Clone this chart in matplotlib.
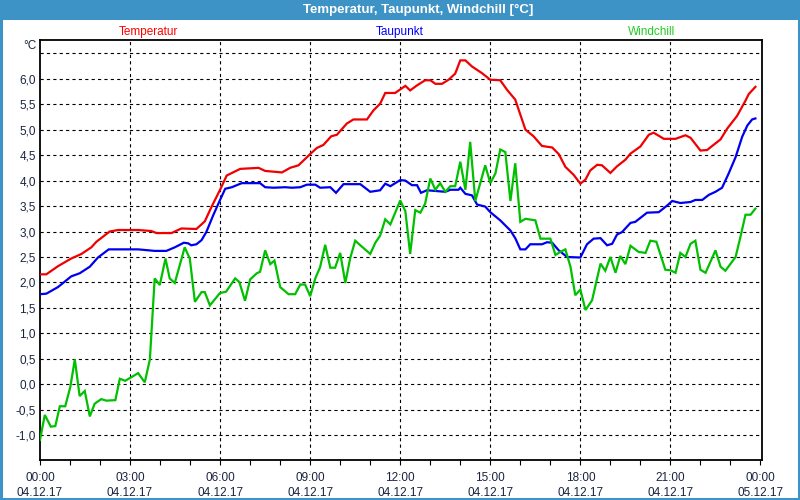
import matplotlib
matplotlib.use("Agg")
import matplotlib.pyplot as plt
from matplotlib.patches import Rectangle

# ---- data (hours since 04.12.17 00:00, values in °C) ----
temp_h = [0, 0.21, 0.6, 1.04, 1.38, 1.71, 1.88, 2.32, 2.6, 3.27,
          3.71, 3.88, 4.38, 4.71, 5.21, 5.49, 5.71, 5.99, 6.22, 6.67,
          7.28, 7.5, 8.06, 8.33, 8.61, 9.0, 9.22, 9.44, 9.7, 9.89,
          10.22, 10.44, 10.89, 11.11, 11.33, 11.5, 11.83, 12.17, 12.33, 12.56,
          12.83, 13.0, 13.17, 13.39, 13.61, 13.83, 14.0, 14.17, 14.39, 14.72,
          15.0, 15.33, 15.56, 15.83, 16.17, 16.44, 16.72, 17.06, 17.28, 17.5,
          17.78, 18.0, 18.17, 18.33, 18.56, 18.72, 19.0, 19.22, 19.5, 19.67,
          20.0, 20.28, 20.44, 20.78, 21.17, 21.5, 21.67, 22.0, 22.22, 22.67,
          22.89, 23.22, 23.5, 23.61, 23.83]
temp_v = [2.16, 2.16, 2.32, 2.47, 2.56, 2.69, 2.80, 3.0, 3.03, 3.03,
          3.01, 2.97, 2.97, 3.06, 3.05, 3.2, 3.48, 3.81, 4.10, 4.23,
          4.25, 4.19, 4.16, 4.25, 4.30, 4.52, 4.64, 4.70, 4.87, 4.90,
          5.12, 5.2, 5.2, 5.38, 5.51, 5.72, 5.72, 5.86, 5.77, 5.87,
          5.97, 5.97, 5.9, 5.9, 5.98, 6.1, 6.36, 6.36, 6.24, 6.11,
          5.98, 5.97, 5.78, 5.59, 5.0, 4.87, 4.68, 4.65, 4.52, 4.27,
          4.11, 3.94, 4.02, 4.2, 4.31, 4.3, 4.15, 4.28, 4.41, 4.53,
          4.67, 4.9, 4.94, 4.82, 4.82, 4.89, 4.84, 4.59, 4.6, 4.81,
          5.02, 5.27, 5.57, 5.70, 5.84]

dew_h = [0, 0.21, 0.6, 1.04, 1.32, 1.66, 1.93, 2.29, 3.27, 3.82,
         4.21, 4.49, 4.79, 4.93, 5.04, 5.21, 5.38, 5.54, 5.77, 5.99,
         6.17, 6.39, 6.72, 7.33, 7.5, 7.78, 8.17, 8.39, 8.67, 8.89,
         9.17, 9.33, 9.67, 9.86, 10.11, 10.67, 11.0, 11.33, 11.5, 11.67,
         12.0, 12.17, 12.39, 12.56, 12.69, 12.89, 13.5, 13.67, 13.94, 14.0,
         14.17, 14.39, 14.56, 14.83, 15.0, 15.33, 15.67, 15.83, 16.0, 16.17,
         16.33, 16.72, 16.89, 17.06, 17.28, 17.56, 18.0, 18.22, 18.44, 18.67,
         18.89, 19.06, 19.22, 19.39, 19.67, 19.83, 20.22, 20.61, 20.89, 21.06,
         21.33, 21.67, 21.83, 22.06, 22.28, 22.5, 22.72, 22.94, 23.17, 23.39,
         23.56, 23.72, 23.83]
dew_v = [1.77, 1.78, 1.91, 2.12, 2.18, 2.31, 2.49, 2.65, 2.65, 2.62,
         2.62, 2.69, 2.78, 2.77, 2.73, 2.75, 2.83, 2.99, 3.32, 3.61,
         3.84, 3.87, 3.95, 3.95, 3.87, 3.86, 3.87, 3.86, 3.87, 3.92,
         3.92, 3.86, 3.87, 3.76, 3.93, 3.93, 3.78, 3.81, 3.94, 3.89,
         4.01, 4.0, 3.91, 3.91, 3.76, 3.81, 3.78, 3.82, 3.82, 3.86,
         3.74, 3.71, 3.53, 3.49, 3.38, 3.22, 3.02, 2.87, 2.65, 2.65,
         2.75, 2.75, 2.79, 2.78, 2.63, 2.5, 2.49, 2.75, 2.86, 2.87,
         2.73, 2.76, 2.94, 2.99, 3.17, 3.19, 3.37, 3.38, 3.51, 3.6,
         3.56, 3.58, 3.62, 3.62, 3.72, 3.78, 3.86, 4.14, 4.46, 4.86,
         5.08, 5.2, 5.22]

wc_h = [0, 0.16, 0.36, 0.51, 0.66, 0.84, 1.01, 1.16, 1.32, 1.49,
        1.66, 1.82, 2.04, 2.21, 2.51, 2.66, 2.84, 3.27, 3.49, 3.66,
        3.82, 3.99, 4.18, 4.32, 4.49, 4.82, 4.99, 5.16, 5.38, 5.49,
        5.66, 5.99, 6.2, 6.5, 6.64, 6.83, 7.0, 7.22, 7.33, 7.5,
        7.67, 7.81, 8.0, 8.28, 8.5, 8.67, 8.83, 9.0, 9.17, 9.33,
        9.5, 9.67, 9.83, 10.0, 10.17, 10.33, 10.5, 10.67, 11.0, 11.17,
        11.33, 11.5, 11.67, 12.0, 12.17, 12.33, 12.5, 12.67, 12.83, 13.0,
        13.17, 13.33, 13.5, 13.67, 13.83, 14.0, 14.17, 14.33, 14.5, 14.83,
        15.0, 15.17, 15.33, 15.5, 15.67, 15.83, 16.0, 16.17, 16.5, 16.67,
        17.0, 17.17, 17.33, 17.5, 17.67, 17.83, 18.0, 18.17, 18.39, 18.67,
        18.83, 19.0, 19.17, 19.33, 19.5, 19.67, 19.94, 20.17, 20.33, 20.53,
        20.83, 21.0, 21.17, 21.33, 21.5, 21.67, 21.83, 22.0, 22.17, 22.5,
        22.67, 22.83, 23.17, 23.33, 23.5, 23.67, 23.83]
wc_v = [-1.09, -0.6, -0.83, -0.82, -0.43, -0.43, -0.05, 0.49, -0.23, -0.13,
        -0.63, -0.38, -0.29, -0.32, -0.31, 0.11, 0.07, 0.22, 0.04, 0.49,
        2.08, 1.95, 2.47, 2.08, 1.99, 2.69, 2.47, 1.62, 1.81, 1.81,
        1.55, 1.79, 1.82, 2.08, 2.01, 1.64, 2.06, 2.18, 2.21, 2.63,
        2.36, 2.43, 1.91, 1.77, 1.77, 1.96, 1.96, 1.73, 2.08, 2.3,
        2.74, 2.29, 2.29, 2.58, 1.99, 2.47, 2.82, 2.73, 2.56, 2.78,
        2.92, 3.24, 3.14, 3.61, 3.4, 2.56, 3.42, 3.37, 3.55, 4.04,
        3.82, 3.95, 3.78, 3.89, 3.89, 4.37, 3.82, 4.76, 3.6, 4.3,
        3.95, 4.14, 4.61, 4.56, 3.6, 4.34, 3.19, 3.25, 3.22, 2.86,
        2.86, 2.54, 2.6, 2.65, 2.31, 1.75, 1.86, 1.46, 1.65, 2.37,
        2.23, 2.5, 2.19, 2.52, 2.36, 2.72, 2.6, 2.58, 2.82, 2.8,
        2.25, 2.24, 2.19, 2.58, 2.5, 2.76, 2.82, 2.25, 2.19, 2.63,
        2.31, 2.23, 2.5, 2.89, 3.33, 3.33, 3.45]

series_names = ["Temperatur", "Taupunkt", "Windchill"]
x_ticks = [0, 3, 6, 9, 12, 15, 18, 21, 24]
x_labels = ["00:00\n04.12.17", "03:00\n04.12.17", "06:00\n04.12.17",
            "09:00\n04.12.17", "12:00\n04.12.17", "15:00\n04.12.17",
            "18:00\n04.12.17", "21:00\n04.12.17", "00:00\n05.12.17"]
y_ticks = [-1.0, -0.5, 0.0, 0.5, 1.0, 1.5, 2.0, 2.5, 3.0, 3.5, 4.0, 4.5,
           5.0, 5.5, 6.0, 6.5]
y_labels = ["-1,0", "-0,5", "0,0", "0,5", "1,0", "1,5", "2,0", "2,5", "3,0",
            "3,5", "4,0", "4,5", "5,0", "5,5", "6,0", ""]

# ---- style ----
plt.rcParams['font.family'] = ['Liberation Sans', 'DejaVu Sans']
plt.rcParams['lines.scale_dashes'] = False
TXT = '#1a2440'
BAR = '#3d93c5'

fig = plt.figure(figsize=(8, 5), dpi=100, facecolor='white')
ax = fig.add_axes([40 / 800, 40 / 500, 722 / 800, 420 / 500])
ax.set_facecolor('white')

colors = ['#f00000', '#0000f0', '#00c000']
for hx, vy, c in zip([temp_h, dew_h, wc_h], [temp_v, dew_v, wc_v], colors):
    ax.plot(hx, vy, color=c, lw=1.6, zorder=3, solid_joinstyle='miter')

ax.set_xlim(0, 24.05)
ax.set_ylim(-1.485, 6.76)

ax.set_yticks(y_ticks)
ax.set_yticklabels(y_labels)
ax.tick_params(axis='y', length=0, pad=3, labelsize=8.5, labelcolor=TXT)
ax.set_xticks(x_ticks)
ax.set_xticklabels(x_labels, linespacing=1.3)
ax.set_xticks(range(0, 25), minor=True)
ax.tick_params(axis='x', which='both', length=3.5, width=0.8, direction='out',
               pad=5, labelsize=8.5, labelcolor=TXT, color='black')

ax.grid(False)
for yv in y_ticks:
    ax.axhline(yv, color='black', lw=0.8, ls=(0, (2.3, 2.3)), zorder=1)
for xv in x_ticks[1:-1]:
    ax.axvline(xv, color='black', lw=0.8, ls=(0, (2.3, 2.3)), zorder=1)

for s in ax.spines.values():
    s.set_color('black')
    s.set_linewidth(1.3)

# title bar and frame
fig.patches.append(Rectangle((0, 480 / 500), 1, 20 / 500, transform=fig.transFigure,
                             facecolor=BAR, edgecolor='none', zorder=0))
fig.patches.append(Rectangle((0.001, 0.002), 0.998, 0.996, transform=fig.transFigure,
                             facecolor='none', edgecolor=BAR, lw=2.2, zorder=5))
fig.text(418 / 800, 1 - 10 / 500, "Temperatur, Taupunkt, Windchill [°C]",
         ha='center', va='center', color='white', fontsize=9.5, fontweight='bold')

legend_x = [148, 400, 652]
for name, c, lx in zip(series_names, ['#ff0000', '#0000ff', '#22cc22'], legend_x):
    fig.text(lx / 800, 1 - 32 / 500, name, ha='center', va='center', color=c, fontsize=8.5)

fig.text(36 / 800, 1 - 46 / 500, "°C", ha='right', va='center', color=TXT, fontsize=8.5)

fig.savefig("out.png", dpi=100, facecolor=fig.get_facecolor())
